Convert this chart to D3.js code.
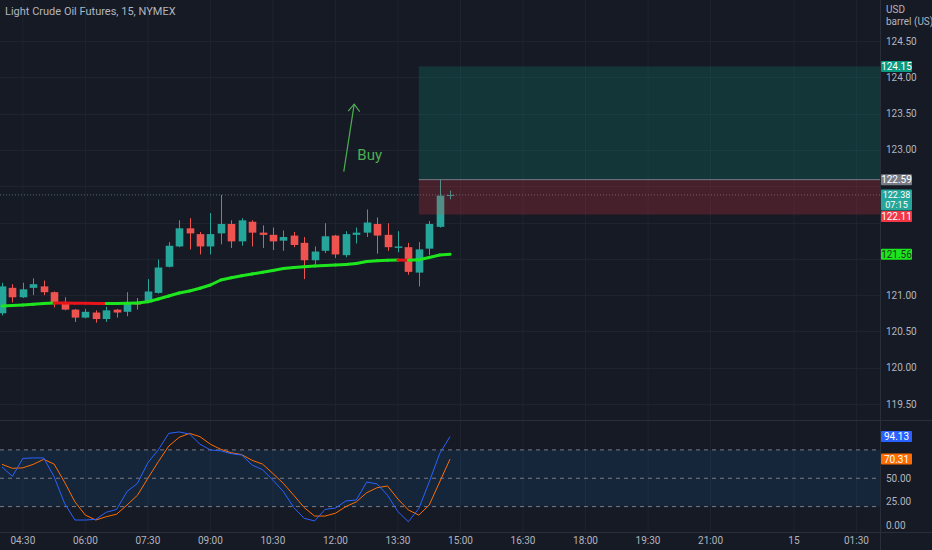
<!DOCTYPE html>
<html lang="en">
<head>
<meta charset="utf-8">
<title>Light Crude Oil Futures, 15, NYMEX</title>
<script src="https://d3js.org/d3.v7.min.js"></script>
<style>
  body { margin: 0; background: #161a25; }
  svg { display: block; font-family: Roboto, "Noto Sans", sans-serif; }
</style>
</head>
<body>
<script>
// candles, 15 min bars starting 04:00
var open  = [120.75,121.10,120.97,121.10,121.12,121.04,120.90,120.80,120.69,120.76,120.67,120.80,120.77,120.90,120.90,121.03,121.39,121.67,121.92,121.84,121.67,121.85,121.98,121.74,122.01,121.86,121.83,121.75,121.82,121.72,121.48,121.61,121.82,121.55,121.83,121.86,121.98,121.83,121.65,121.66,121.31,121.64,121.94,122.37];
var high  = [121.17,121.15,121.17,121.23,121.20,121.05,120.97,120.81,120.81,120.79,120.84,120.81,121.04,120.96,121.22,121.49,121.73,122.03,122.06,121.87,122.13,122.38,122.03,122.06,122.03,121.96,121.93,121.89,121.87,121.80,121.67,121.99,121.83,121.88,121.93,122.18,122.07,121.99,121.88,121.72,121.73,122.02,122.59,122.44];
var low   = [120.72,120.90,120.96,121.00,121.00,120.83,120.79,120.63,120.68,120.62,120.63,120.69,120.71,120.80,120.89,121.02,121.38,121.66,121.63,121.56,121.56,121.70,121.65,121.68,121.67,121.65,121.62,121.61,121.66,121.22,121.42,121.58,121.51,121.52,121.71,121.80,121.57,121.61,121.59,121.28,121.12,121.55,121.93,122.32];
var close = [121.12,120.97,121.08,121.15,121.04,120.90,120.80,120.69,120.77,120.67,120.79,120.76,120.89,120.87,121.05,121.38,121.68,121.92,121.85,121.67,121.84,121.98,121.74,122.03,121.86,121.83,121.74,121.80,121.69,121.48,121.60,121.81,121.56,121.84,121.86,122.00,121.82,121.66,121.67,121.32,121.63,121.98,122.37,122.38];

// moving average
var ma = [120.850,120.857,120.864,120.873,120.884,120.891,120.890,120.888,120.887,120.886,120.884,120.886,120.887,120.891,120.909,120.946,120.987,121.029,121.056,121.094,121.139,121.208,121.240,121.267,121.291,121.314,121.339,121.366,121.380,121.391,121.401,121.408,121.415,121.421,121.435,121.463,121.474,121.481,121.483,121.479,121.486,121.518,121.552,121.562];

// stochastic
var stochK = [62,52,71,71.5,71.5,51.6,23.5,5.8,5.8,6.5,14,17,36,44.6,66.5,80,97.5,99,96.8,86,80,79,76,74.6,64,59,48,36,19,7.6,4.8,17,18.5,26,27,46,44,32,14.6,4,18,46,76,94.13];
var stochD = [64.7,60.5,61,64.7,70,65,46,25,11,5.8,9.3,12,21.7,32,50,67.5,84,93.3,97.5,94,86,80.6,77,75,69,65,55,44.6,32,19,10,10,13,20,25,34.7,40,41.8,28,16.4,11,21.7,46,70.31];

var timeLabels = ["04:30","06:00","07:30","09:00","10:30","12:00","13:30","15:00","16:30","18:00","19:30","21:00","15","01:30"];
var timeIndex  = [2,8,14,20,26,32,38,44,50,56,62,68,76,82];
var priceTicks = [119.5,120,120.5,121,121.5,122,122.5,123,123.5,124,124.5];
var stochTicks = [0,25,50,75,100];
var stochBands = [80,50,20];

// long position drawing
var posStart = 40, target = 124.15, entry = 122.59, stop = 122.11;
// arrow + text drawing
var arrowFrom = [32.8, 122.70], arrowTo = [33.8, 123.63], buyAt = [34.1, 122.86];

var w = 932, h = 550;
var plotRight = 880, mainBottom = 420, stochBottom = 532;

var bg = "#161a25", gridColor = "#1f2330", axisText = "#b2b5be";
var up = "#26a69a", down = "#ef5350";

var x = d3.scaleLinear().domain([-2 / 10.42, (plotRight - 2) / 10.42]).range([0, plotRight]);
var y = d3.scaleLinear().domain([119.5, 124.5]).range([404, 41]);
var ys = d3.scaleLinear().domain([0, 100]).range([525.5, 431]);

var bars = d3.range(close.length);

var svg = d3.select("body").append("svg")
  .attr("width", w)
  .attr("height", h);

svg.append("rect").attr("width", w).attr("height", h).attr("fill", bg);

var defs = svg.append("defs");
defs.append("clipPath").attr("id", "mainClip")
  .append("rect").attr("width", plotRight).attr("height", mainBottom);
defs.append("clipPath").attr("id", "stochClip")
  .append("rect").attr("y", mainBottom + 1).attr("width", plotRight).attr("height", stochBottom - mainBottom - 1);

//grid
svg.append("g").selectAll("line")
  .data(timeIndex).enter().append("line")
  .attr("x1", function(d) { return x(d); })
  .attr("x2", function(d) { return x(d); })
  .attr("y1", 0).attr("y2", stochBottom)
  .attr("stroke", gridColor);

svg.append("g").selectAll("line")
  .data(priceTicks).enter().append("line")
  .attr("x1", 0).attr("x2", plotRight)
  .attr("y1", function(d) { return Math.round(y(d)) + 0.5; })
  .attr("y2", function(d) { return Math.round(y(d)) + 0.5; })
  .attr("stroke", gridColor);

//pane borders
svg.append("line").attr("x1", 0).attr("x2", w).attr("y1", mainBottom + 0.5).attr("y2", mainBottom + 0.5).attr("stroke", "#2a2e39");
svg.append("line").attr("x1", 0).attr("x2", w).attr("y1", stochBottom + 0.5).attr("y2", stochBottom + 0.5).attr("stroke", "#2a2e39");
svg.append("line").attr("x1", plotRight + 0.5).attr("x2", plotRight + 0.5).attr("y1", 0).attr("y2", h).attr("stroke", "#2a2e39");

var main = svg.append("g").attr("clip-path", "url(#mainClip)");

//last price line
main.append("line")
  .attr("x1", 0).attr("x2", plotRight)
  .attr("y1", y(close[close.length - 1])).attr("y2", y(close[close.length - 1]))
  .attr("stroke", "#4f6b73").attr("stroke-dasharray", "1,2");

//candles
var candle = main.append("g").selectAll("g")
  .data(bars).enter().append("g");

candle.append("line")
  .attr("x1", function(i) { return Math.round(x(i)) + 0.5; })
  .attr("x2", function(i) { return Math.round(x(i)) + 0.5; })
  .attr("y1", function(i) { return y(high[i]); })
  .attr("y2", function(i) { return y(low[i]); })
  .attr("stroke", function(i) { return close[i] >= open[i] ? up : down; });

candle.append("rect")
  .attr("x", function(i) { return Math.round(x(i)) + 0.5 - 3.8; })
  .attr("width", 7.6)
  .attr("y", function(i) { return y(Math.max(open[i], close[i])); })
  .attr("height", function(i) { return Math.max(1, Math.abs(y(open[i]) - y(close[i]))); })
  .attr("fill", function(i) { return close[i] >= open[i] ? up : down; });

//moving average, coloured by direction
var maSegs = d3.range(ma.length - 1);
main.append("g").selectAll("line")
  .data(maSegs).enter().append("line")
  .attr("x1", function(i) { return x(i); })
  .attr("x2", function(i) { return x(i + 1); })
  .attr("y1", function(i) { return y(ma[i]); })
  .attr("y2", function(i) { return y(ma[i + 1]); })
  .attr("stroke", function(i) { return ma[i + 1] < ma[i] ? "#e8141c" : "#1ee61e"; })
  .attr("stroke-width", 3)
  .attr("stroke-linecap", "round");

//position box
var bx = x(posStart);
main.append("rect")
  .attr("x", bx).attr("width", plotRight - bx)
  .attr("y", y(target)).attr("height", y(entry) - y(target))
  .attr("fill", "rgba(8,153,129,0.22)");
main.append("rect")
  .attr("x", bx).attr("width", plotRight - bx)
  .attr("y", y(entry)).attr("height", y(stop) - y(entry))
  .attr("fill", "rgba(242,54,69,0.22)");
main.append("line")
  .attr("x1", bx).attr("x2", plotRight)
  .attr("y1", y(entry)).attr("y2", y(entry))
  .attr("stroke", "#787b86").attr("stroke-width", 1);

//arrow and text
var ax1 = x(arrowFrom[0]), ay1 = y(arrowFrom[1]), ax2 = x(arrowTo[0]), ay2 = y(arrowTo[1]);
main.append("line")
  .attr("x1", ax1).attr("y1", ay1).attr("x2", ax2).attr("y2", ay2)
  .attr("stroke", "#4caf50").attr("stroke-width", 1.2);
main.append("path")
  .attr("d", "M" + (ax2 - 6) + "," + (ay2 + 7) + "L" + ax2 + "," + ay2 + "L" + (ax2 + 5.5) + "," + (ay2 + 7.5))
  .attr("fill", "none").attr("stroke", "#4caf50").attr("stroke-width", 1.2);
main.append("text")
  .attr("x", x(buyAt[0])).attr("y", y(buyAt[1]))
  .attr("fill", "#4caf50")
  .attr("font-size", "15px")
  .text("Buy");

//stochastic pane
var stoch = svg.append("g").attr("clip-path", "url(#stochClip)");
stoch.append("rect")
  .attr("x", 0).attr("width", plotRight)
  .attr("y", ys(stochBands[0])).attr("height", ys(stochBands[2]) - ys(stochBands[0]))
  .attr("fill", "rgba(33,150,243,0.1)");
stoch.selectAll("line.band")
  .data(stochBands).enter().append("line")
  .attr("class", "band")
  .attr("x1", 0).attr("x2", plotRight)
  .attr("y1", function(d) { return ys(d); })
  .attr("y2", function(d) { return ys(d); })
  .attr("stroke", "#787b86").attr("stroke-dasharray", "4,4");

var line = d3.line().x(function(d, i) { return x(i); });
stoch.append("path")
  .datum(stochD)
  .attr("d", line.y(function(d) { return ys(d); }))
  .attr("fill", "none").attr("stroke", "#ff6d00").attr("stroke-width", 1);
stoch.append("path")
  .datum(stochK)
  .attr("d", line.y(function(d) { return ys(d); }))
  .attr("fill", "none").attr("stroke", "#2962ff").attr("stroke-width", 1);

//title
svg.append("text")
  .attr("x", 5).attr("y", 15)
  .attr("fill", axisText).attr("font-size", "11px")
  .text("Light Crude Oil Futures, 15, NYMEX");

//price tags on the axis (y positions)
var last = close[close.length - 1];
var mainTags = [y(target), y(entry), y(last), y(stop), y(ma[ma.length - 1])];
var stochTags = [ys(stochK[stochK.length - 1]), ys(stochD[stochD.length - 1])];

function free(py, tags) {
  return tags.every(function(t) { return Math.abs(t - py) > 10.5; });
}

//price axis
svg.append("text").attr("x", 886).attr("y", 13).attr("fill", axisText).attr("font-size", "10px").text("USD");
svg.append("text").attr("x", 886).attr("y", 25).attr("fill", axisText).attr("font-size", "10px").text("barrel (US)");

svg.append("g").selectAll("text")
  .data(priceTicks.filter(function(d) { return free(y(d), mainTags); })).enter().append("text")
  .attr("x", 886)
  .attr("y", function(d) { return y(d) + 3.5; })
  .attr("fill", axisText).attr("font-size", "10px")
  .text(function(d) { return d.toFixed(2); });

svg.append("g").selectAll("text")
  .data(stochTicks.filter(function(d) { return free(ys(d), stochTags); })).enter().append("text")
  .attr("x", 886)
  .attr("y", function(d) { return ys(d) + 3.5; })
  .attr("fill", axisText).attr("font-size", "10px")
  .text(function(d) { return d.toFixed(2); });

//time axis
svg.append("g").selectAll("text")
  .data(timeIndex).enter().append("text")
  .attr("x", function(d) { return x(d); })
  .attr("y", 544)
  .attr("text-anchor", "middle")
  .attr("fill", axisText).attr("font-size", "10px")
  .text(function(d, i) { return timeLabels[i]; });

function tag(cy, fill, color, lines) {
  var two = lines.length > 1;
  var bh = two ? 21 : 11;
  svg.append("rect")
    .attr("x", plotRight + 1).attr("width", 31)
    .attr("y", cy - 5.5).attr("height", bh)
    .attr("fill", fill).attr("rx", 1);
  lines.forEach(function(t, k) {
    svg.append("text")
      .attr("x", plotRight + 16.5).attr("y", cy + (two ? 3 : 3.5) + k * 10)
      .attr("text-anchor", "middle")
      .attr("fill", color).attr("font-size", two ? "9px" : "10px")
      .text(t);
  });
}
tag(y(target), "#089981", "#ffffff", [target.toFixed(2)]);
tag(y(entry), "#787b86", "#ffffff", [entry.toFixed(2)]);
tag(y(last), up, "#ffffff", [last.toFixed(2), "07:15"]);
tag(y(stop) + 2, "#f23645", "#ffffff", [stop.toFixed(2)]);
tag(y(ma[ma.length - 1]), "#1ee61e", "#1b3a1b", [ma[ma.length - 1].toFixed(2)]);
tag(ys(stochK[stochK.length - 1]), "#2962ff", "#ffffff", [stochK[stochK.length - 1].toFixed(2)]);
tag(ys(stochD[stochD.length - 1]), "#ff6d00", "#ffffff", [stochD[stochD.length - 1].toFixed(2)]);
</script>
</body>
</html>
